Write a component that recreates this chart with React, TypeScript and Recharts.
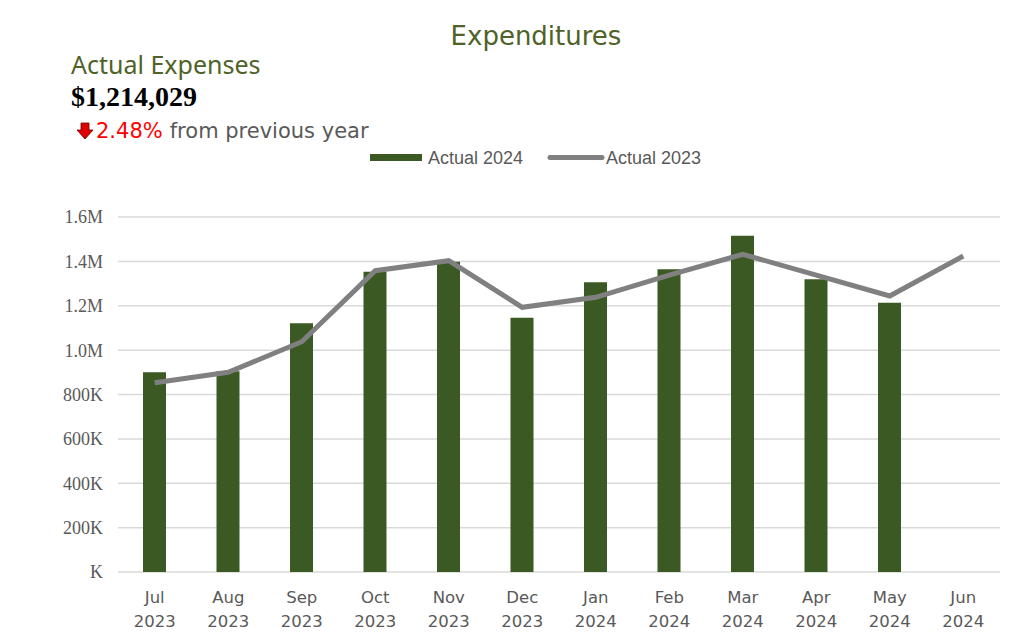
import React from 'react';
import { ComposedChart, Bar, Line, XAxis, YAxis, CartesianGrid } from 'recharts';

const months = ['Jul', 'Aug', 'Sep', 'Oct', 'Nov', 'Dec', 'Jan', 'Feb', 'Mar', 'Apr', 'May', 'Jun'];
const years = ['2023', '2023', '2023', '2023', '2023', '2023', '2024', '2024', '2024', '2024', '2024', '2024'];
const actual2024: (number | null)[] = [900000, 905000, 1121000, 1353000, 1398000, 1146000, 1306000, 1364000, 1516000, 1320000, 1214029, null];
const actual2023: number[] = [853000, 900000, 1038000, 1358000, 1403000, 1193000, 1238000, 1338000, 1432000, 1338000, 1244000, 1424000];
const yTicks = [0, 200000, 400000, 600000, 800000, 1000000, 1200000, 1400000, 1600000];

const data = months.map((m, i) => ({
  label: `${m} ${years[i]}`,
  month: m,
  year: years[i],
  a2024: actual2024[i],
  a2023: actual2023[i],
}));

const BAR_COLOR = '#3b5a23';
const LINE_COLOR = '#808080';
const GREEN_TEXT = '#4f6228';
const GREY_TEXT = '#595959';

const fmtY = (v: number) => {
  if (v === 0) return 'K';
  if (v < 1000000) return `${v / 1000}K`;
  return `${(v / 1000000).toFixed(1)}M`;
};

const XTick = (props: any) => {
  const { x, y, index } = props;
  return (
    <g>
      <text x={x} y={y + 23} textAnchor="middle" fontFamily="'DejaVu Sans', Verdana, sans-serif" fontSize={16.5} fill={GREY_TEXT}>
        {months[index]}
      </text>
      <text x={x} y={y + 47} textAnchor="middle" fontFamily="'DejaVu Sans', Verdana, sans-serif" fontSize={16.5} fill={GREY_TEXT}>
        {years[index]}
      </text>
    </g>
  );
};

export default function App() {
  return (
    <div style={{ position: 'fixed', left: 0, top: 0, width: 1014, height: 637, background: '#fff' }}>
      <ComposedChart
        width={1014}
        height={637}
        data={data}
        margin={{ top: 217, right: 14, bottom: 0, left: 0 }}
        barCategoryGap={0}
      >
        <CartesianGrid vertical={false} stroke="#d9d9d9" strokeWidth={1.5} />
        <XAxis
          dataKey="label"
          axisLine={false}
          tickLine={false}
          height={65}
          interval={0}
          tick={<XTick />}
        />
        <YAxis
          domain={[0, 1600000]}
          ticks={yTicks}
          tickFormatter={fmtY}
          axisLine={false}
          tickLine={false}
          width={118}
          tickSize={6}
          tickMargin={9}
          tick={{ fontFamily: "'Liberation Serif', 'Times New Roman', serif", fontSize: 18, fill: GREY_TEXT }}
          interval={0}
        />
        <Bar dataKey="a2024" name="Actual 2024" fill={BAR_COLOR} barSize={23} isAnimationActive={false} />
        <Line
          dataKey="a2023"
          name="Actual 2023"
          type="linear"
          stroke={LINE_COLOR}
          strokeWidth={5}
          dot={false}
          activeDot={false}
          isAnimationActive={false}
        />
      </ComposedChart>
      <svg width={1014} height={200} style={{ position: 'absolute', left: 0, top: 0, pointerEvents: 'none' }}>
        <text x={536} y={45} textAnchor="middle" fontFamily="'DejaVu Sans', Verdana, sans-serif" fontSize={26} fill={GREEN_TEXT}>
          Expenditures
        </text>
        <text x={71} y={74} fontFamily="'Noto Sans', 'Segoe UI', sans-serif" fontSize={25} fill={GREEN_TEXT}>
          Actual Expenses
        </text>
        <text x={71} y={106} fontFamily="'Liberation Serif', 'Times New Roman', serif" fontWeight="bold" fontSize={28} fill="#000">
          $1,214,029
        </text>
        <polygon points="81,123 89,123 89,130 93,130 85,139 77,130 81,130" fill="#e00000" stroke="#600" strokeWidth={0.8} />
        <text x={96} y={138} fontFamily="'DejaVu Sans', Verdana, sans-serif" fontSize={21}>
          <tspan fill="#ff0000">2.48%</tspan>
          <tspan fill={GREY_TEXT} dx={7}>from previous year</tspan>
        </text>
        <rect x={370} y={154} width={52} height={7} fill={BAR_COLOR} />
        <text x={428} y={164} fontFamily="'Liberation Sans', Arial, sans-serif" fontSize={18} fill={GREY_TEXT}>
          Actual 2024
        </text>
        <line x1={550} y1={157.5} x2={602} y2={157.5} stroke={LINE_COLOR} strokeWidth={5} strokeLinecap="round" />
        <text x={606} y={164} fontFamily="'Liberation Sans', Arial, sans-serif" fontSize={18} fill={GREY_TEXT}>
          Actual 2023
        </text>
      </svg>
    </div>
  );
}
